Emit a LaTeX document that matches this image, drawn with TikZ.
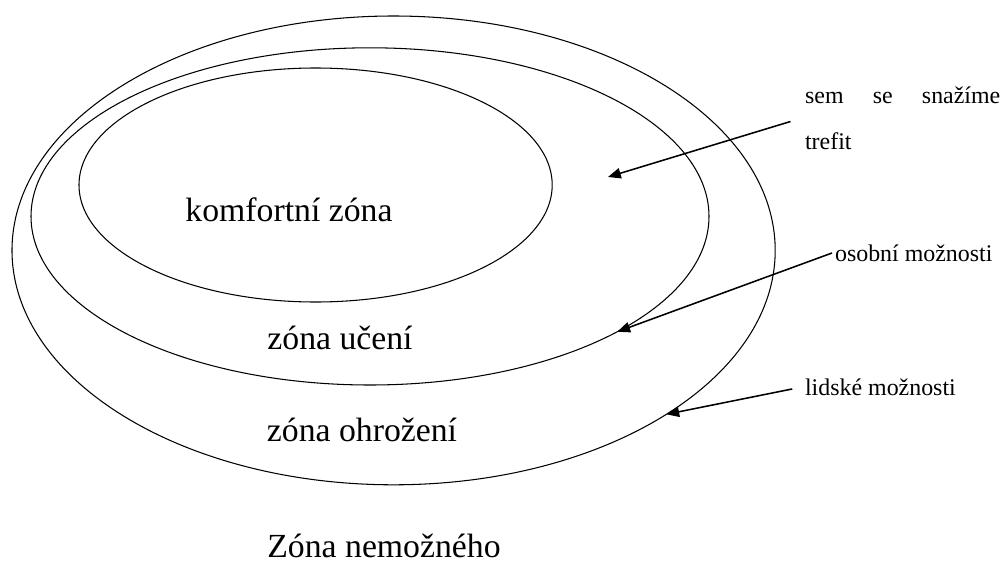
\documentclass[tikz,border=0pt]{standalone}
\usepackage{fontspec}
\setmainfont{Liberation Serif}
\usetikzlibrary{shapes.geometric, arrows.meta, positioning}

\begin{document}
\begin{tikzpicture}[
zone/.style={draw, ellipse, inner sep=0pt, outer sep=0pt, line width=0.75pt},
zonetext/.style={font=\fontsize{24}{29}\selectfont},
note/.style={font=\fontsize{17}{20}\selectfont, anchor=west, align=left, inner sep=2pt},
pointer/.style={-{Triangle[length=0.32cm, width=0.26cm]}, line width=1.1pt}
]
\useasboundingbox (0,0) rectangle (25.075,14.1);

% Zóny
\node[zone, minimum width=19.08cm, minimum height=11.72cm] (outer) at (9.84,7.84) {};
\node[zone, minimum width=16.95cm, minimum height=8.43cm] (middle) at (9.25,8.69) {};
\node[zone, minimum width=11.83cm, minimum height=5.85cm] (inner) at (7.89,9.475) {};

% Názvy zón
\node[zonetext] (komfort) at (7.225,8.85) {komfortní zóna};
\node[zonetext] (uceni) at (8.5,5.65) {zóna učení};
\node[zonetext] (ohrozeni) at (9.05,3.35) {zóna ohrožení};
\node[zonetext] (nemozne) at (9.6,0.45) {Zóna nemožného};

% Popisky
\node[note] (cil) at (20.05,11.15) {\makebox[4.88cm][s]{sem se snažíme}\\[0.45cm]trefit};
\node[note] (osobni) at (20.80,7.775) {osobní možnosti};
\node[note] (lidske) at (20.05,4.425) {lidské možnosti};
\coordinate (cilbod) at (15.2,9.675);

% Šipky
\draw[pointer, shorten <=0.3cm] (cil.west) -- (cilbod);
\draw[pointer] (osobni.west) -- (middle.-25.7);
\draw[pointer, shorten <=0.25cm] (lidske.west) -- (outer.-31.2);

\end{tikzpicture}
\end{document}
